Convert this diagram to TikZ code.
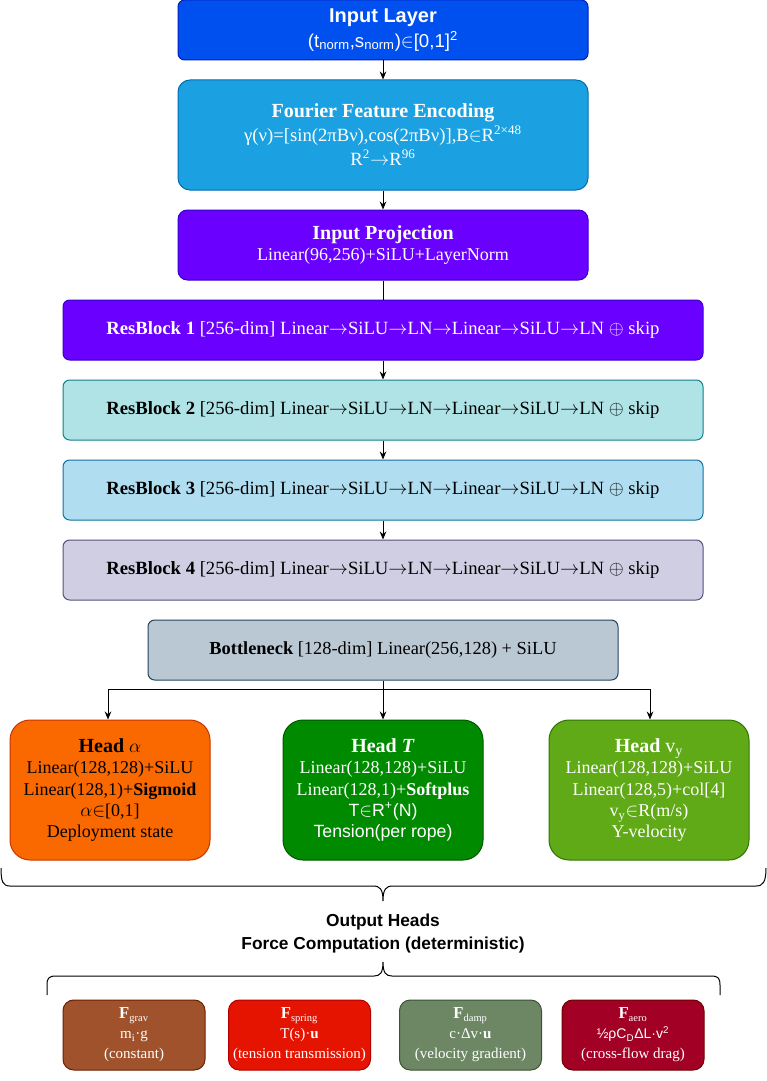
\documentclass[tikz,border=0pt]{standalone}
\usepackage{fontspec}
\setmainfont{Liberation Serif}
\setsansfont{Liberation Sans}
\usetikzlibrary{arrows.meta}

\definecolor{cBlue}{HTML}{0050EF}     \definecolor{sBlue}{HTML}{001DBC}
\definecolor{cSky}{HTML}{1BA1E2}      \definecolor{sSky}{HTML}{006EAF}
\definecolor{cViolet}{HTML}{6A00FF}   \definecolor{sViolet}{HTML}{3700CC}
\definecolor{cTeal}{HTML}{B0E3E6}     \definecolor{sTeal}{HTML}{0E8088}
\definecolor{cIce}{HTML}{B1DDF0}      \definecolor{sIce}{HTML}{10739E}
\definecolor{cLilac}{HTML}{D0CEE2}    \definecolor{sLilac}{HTML}{56517E}
\definecolor{cSlate}{HTML}{BAC8D3}    \definecolor{sSlate}{HTML}{23445D}
\definecolor{cOrange}{HTML}{FA6800}   \definecolor{sOrange}{HTML}{C73500}
\definecolor{cGreen}{HTML}{008A00}    \definecolor{sGreen}{HTML}{005700}
\definecolor{cLime}{HTML}{60A917}     \definecolor{sLime}{HTML}{2D7600}
\definecolor{cSienna}{HTML}{A0522D}   \definecolor{sSienna}{HTML}{6D1F00}
\definecolor{cRed}{HTML}{E51400}      \definecolor{sRed}{HTML}{B20000}
\definecolor{cOlive}{HTML}{6D8764}    \definecolor{sOlive}{HTML}{3A5431}
\definecolor{cCrimson}{HTML}{A20025}  \definecolor{sCrimson}{HTML}{6F0000}

\newcommand{\blocktitle}[1]{{\fontsize{15}{18}\selectfont\bfseries #1}}

\begin{document}
\begin{tikzpicture}[
        x=0.75pt, y=-0.75pt,
        block/.style={rectangle, rounded corners=5pt, line width=0.75pt, align=center, inner sep=2pt, font=\fontsize{13.5}{16}\selectfont},
        res/.style={block, minimum width=480pt, minimum height=45pt, font=\fontsize{14}{16}\selectfont},
        head/.style={block, rounded corners=15pt, minimum width=150pt, minimum height=105pt},
        force/.style={block, rounded corners=8pt, minimum width=106.5pt, minimum height=52.5pt, text=white, font=\fontsize{11.25}{15}\selectfont},
        link/.style={-{Stealth[length=6pt,width=5pt]}, line width=0.75pt},
        line/.style={line width=0.75pt}
    ]
    
    \path[fill=white] (0,0) rectangle (767,1081);
    \useasboundingbox (0,0) rectangle (767,1081);
    
    % Input
    \node[block, fill=cBlue, draw=sBlue, text=white, minimum width=307.5pt, minimum height=45pt, font=\sffamily\fontsize{14}{15}\selectfont] at (383,30) (input) {\blocktitle{Input Layer}\\[2pt](t\textsubscript{norm},s\textsubscript{norm})$\in$[0,1]\textsuperscript{2}};
    
    % Fourier features
    \node[block, rounded corners=9pt, fill=cSky, draw=sSky, text=white, minimum width=307.5pt, minimum height=82.5pt, font=\fontsize{14}{16}\selectfont] at (383,135) (fourier) {\blocktitle{Fourier Feature Encoding}\\[2pt]γ(ν)=[sin(2πBν),cos(2πBν)],B$\in$R\textsuperscript{2×48}\\[2pt]R\textsuperscript{2}$\rightarrow$R\textsuperscript{96}};
    
    % Projection
    \node[block, rounded corners=7pt, fill=cViolet, draw=sViolet, text=white, minimum width=307.5pt, minimum height=52.5pt] at (383,245) (proj) {\blocktitle{Input Projection}\\Linear(96,256)+SiLU+LayerNorm};
    
    % Residual blocks
    \node[res, fill=cViolet, draw=sViolet, text=white] at (383,330) (rb1) {\textbf{ResBlock 1} [256-dim] Linear$\rightarrow$SiLU$\rightarrow$LN$\rightarrow$Linear$\rightarrow$SiLU$\rightarrow$LN $\oplus$ skip};
    \node[res, fill=cTeal, draw=sTeal] at (383,410) (rb2) {\textbf{ResBlock 2} [256-dim] Linear$\rightarrow$SiLU$\rightarrow$LN$\rightarrow$Linear$\rightarrow$SiLU$\rightarrow$LN $\oplus$ skip};
    \node[res, fill=cIce, draw=sIce] at (383,490) (rb3) {\textbf{ResBlock 3} [256-dim] Linear$\rightarrow$SiLU$\rightarrow$LN$\rightarrow$Linear$\rightarrow$SiLU$\rightarrow$LN $\oplus$ skip};
    \node[res, fill=cLilac, draw=sLilac] at (383,570) (rb4) {\textbf{ResBlock 4} [256-dim] Linear$\rightarrow$SiLU$\rightarrow$LN$\rightarrow$Linear$\rightarrow$SiLU$\rightarrow$LN $\oplus$ skip};
    
    % Bottleneck
    \node[block, fill=cSlate, draw=sSlate, minimum width=352.5pt, minimum height=45pt, font=\fontsize{13.8}{16}\selectfont] at (383,650) (bott) {\textbf{Bottleneck} [128-dim] Linear(256,128) + SiLU};
    
    % Heads
    \node[head, fill=cOrange, draw=sOrange] at (110,790) (alpha) {\blocktitle{Head $\alpha$}\\Linear(128,128)+SiLU\\Linear(128,1)+\textbf{Sigmoid}\\$\alpha{\in}$[0,1]\\Deployment state};
    \node[head, fill=cGreen, draw=sGreen, text=white] at (383,790) (tension) {\blocktitle{Head \textit{T}}\\Linear(128,128)+SiLU\\Linear(128,1)+\textbf{Softplus}\\{\sffamily\fontsize{13.3}{16}\selectfont T$\in$R\textsuperscript{+}(N)}\\{\sffamily\fontsize{13.3}{16}\selectfont Tension(per rope)}};
    \node[head, fill=cLime, draw=sLime, text=white] at (649,790) (vel) {{\fontsize{15}{18}\selectfont\textbf{Head} v\textsubscript{y}}\\Linear(128,128)+SiLU\\Linear(128,5)+col[4]\\v\textsubscript{y}$\in$R(m/s)\\Y-velocity};
    
    % Labels
    \node[font=\sffamily\bfseries\fontsize{13}{17.25}\selectfont, align=center] at (383,934) (heads) {Output Heads\\Force Computation (deterministic)};
    
    % Forces
    \node[force, fill=cSienna, draw=sSienna] at (134,1035) (grav) {{\fontsize{12.5}{15}\selectfont\textbf{F}}\textsubscript{grav}\\m\textsubscript{i}·g\\(constant)};
    \node[force, fill=cRed, draw=sRed] at (299.5,1035) (spring) {{\fontsize{12.5}{15}\selectfont\textbf{F}}\textsubscript{spring}\\T(s)·\textbf{u}\\(tension transmission)};
    \node[force, fill=cOlive, draw=sOlive] at (470.5,1035) (damp) {{\fontsize{12.5}{15}\selectfont\textbf{F}}\textsubscript{damp}\\c·Δv·\textbf{u}\\(velocity gradient)};
    \node[force, fill=cCrimson, draw=sCrimson] at (633,1035) (aero) {{\fontsize{12.5}{15}\selectfont\textbf{F}}\textsubscript{aero}\\{\sffamily\fontsize{10.5}{15}\selectfont ½ρC\textsubscript{D}ΔL·v\textsuperscript{2}}\\(cross-flow drag)};
    
    % Arrows
    \draw[link] (input) -- (fourier);
    \draw[link] (fourier) -- (proj);
    \draw[line] (proj) -- (rb1);
    \draw[link] (rb1) -- (rb2);
    \draw[link] (rb2) -- (rb3);
    \draw[link] (rb3) -- (rb4);
    
    % Split to heads
    \coordinate (splitL) at (108,689);
    \coordinate (splitR) at (650,689);
    \draw[line] (splitL) -- (splitR);
    \draw[link] (bott) -- (tension);
    \draw[link] (splitL) -- (splitL |- alpha.north);
    \draw[link] (splitR) -- (splitR |- vel.north);
    
    % Braces
    \draw[line] (1,868) .. controls (1,882) and (3,886) .. (10,886) -- (373,886) .. controls (380,886) and (383,889) .. (383,901) .. controls (383,889) and (386,886) .. (393,886) -- (756,886) .. controls (763,886) and (766,882) .. (766,868);
    \draw[line] (47,995) -- (47,985) .. controls (47,978) and (49,976) .. (56,976) -- (374,976) .. controls (380,976) and (383,973) .. (383,962) .. controls (383,973) and (386,976) .. (392,976) -- (711,976) .. controls (718,976) and (720,978) .. (720,985) -- (720,995);
    
\end{tikzpicture}
\end{document}
